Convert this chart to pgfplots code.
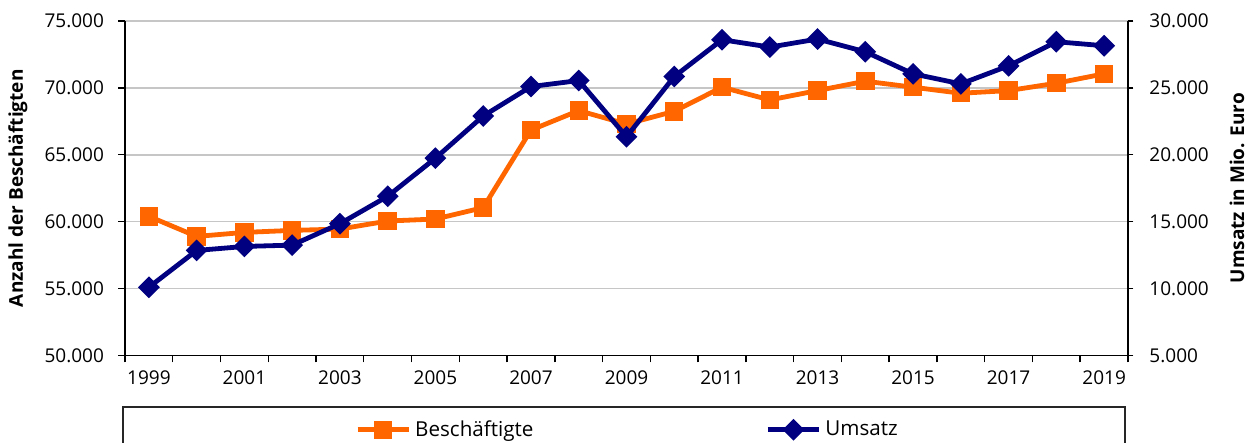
\documentclass[border=0pt]{standalone}
\usepackage{fontspec}
\setmainfont{Open Sans}
\usepackage{pgfplots}
\pgfplotsset{compat=1.18}
\definecolor{orng}{RGB}{255,102,0}
\definecolor{navy}{RGB}{0,0,128}
\tikzset{myfont/.style={font=\fontsize{9.5}{11}\selectfont}}
\pgfplotsset{/pgf/number format/assume math mode=true}
\begin{document}
\begin{tikzpicture}
\begin{axis}[
  at={(62.5pt,43.75pt)}, anchor=south west,
  scale only axis, width=501.5pt, height=167.25pt,
  xmin=1998.5, xmax=2019.5,
  ymin=50000, ymax=75000,
  axis x line*=bottom, axis y line*=left,
  axis line style={black, line width=0.8pt},
  tick align=outside, major tick length=3.5pt,
  tick style={black, line width=0.7pt},
  xtick={1998.5,1999.5,...,2019.5}, xticklabels={},
  extra x ticks={1999,2001,2003,2005,2007,2009,2011,2013,2015,2017,2019},
  extra x tick labels={1999,2001,2003,2005,2007,2009,2011,2013,2015,2017,2019},
  extra x tick style={major tick length=0pt, grid=none, tick label style={myfont, yshift=-4pt}},
  ytick={50000,55000,...,75000},
  scaled y ticks=false,
  yticklabel style={myfont, xshift=-3.5pt, /pgf/number format/.cd, fixed, 1000 sep={.}},
  ymajorgrids, grid style={gray!45, line width=0.8pt},
  ylabel={\bfseries Anzahl der Beschäftigten},
  ylabel style={myfont, at={(rel axis cs:-0.1067,0.5)}, anchor=center},
  clip=false,
]
\addplot[orng, line width=2.4pt, mark=square*, mark size=3.4pt, mark options={solid}] coordinates {
(1999,60400) (2000,58900) (2001,59200) (2002,59350) (2003,59450) (2004,60050)
(2005,60200) (2006,61050) (2007,66850) (2008,68300) (2009,67300) (2010,68250)
(2011,70050) (2012,69100) (2013,69800) (2014,70500) (2015,70050) (2016,69600)
(2017,69800) (2018,70350) (2019,71050)
};
\end{axis}
\begin{axis}[
  at={(62.5pt,43.75pt)}, anchor=south west,
  scale only axis, width=501.5pt, height=167.25pt,
  xmin=1998.5, xmax=2019.5,
  ymin=5000, ymax=30000,
  axis x line=none, axis y line*=right,
  axis line style={black, line width=0.8pt},
  tick align=outside, major tick length=2.7pt,
  tick style={black, line width=0.7pt},
  ytick={5000,10000,...,30000},
  scaled y ticks=false,
  yticklabel style={myfont, xshift=4.5pt, /pgf/number format/.cd, fixed, 1000 sep={.}},
  ylabel={\bfseries Umsatz in Mio. Euro},
  ylabel style={myfont, at={(rel axis cs:1.1087,0.5)}, anchor=center, rotate=0},
  clip=false,
  legend columns=2,
  legend style={font=\fontsize{10.3}{12}\selectfont, at={(rel axis cs:0.502,-0.222)}, anchor=center, draw=none, fill=none,
    /tikz/every even column/.append style={column sep=114pt}},
  legend image code/.code={\draw[mark repeat=2, mark phase=2] plot coordinates {(0cm,0cm) (0.45cm,0cm) (0.9cm,0cm)};},
]
\addlegendimage{orng, line width=2.4pt, mark=square*, mark size=3.4pt}
\addlegendentry{Beschäftigte}
\addplot[navy, line width=2.4pt, mark=square*, mark size=2.65pt, mark options={rotate=45}] coordinates {
(1999,10100) (2000,12850) (2001,13150) (2002,13250) (2003,14850) (2004,16900)
(2005,19750) (2006,22900) (2007,25100) (2008,25550) (2009,21350) (2010,25850)
(2011,28600) (2012,28050) (2013,28650) (2014,27700) (2015,26050) (2016,25300)
(2017,26650) (2018,28450) (2019,28150)
};
\addlegendentry{Umsatz}
\end{axis}
\draw[black!85, line width=0.6pt] (61.5pt,-5pt) rectangle (562.5pt,18pt);
\pgfresetboundingbox
\path[use as bounding box] (0,0) rectangle (623.5pt,221.5pt);
\end{tikzpicture}
\end{document}
